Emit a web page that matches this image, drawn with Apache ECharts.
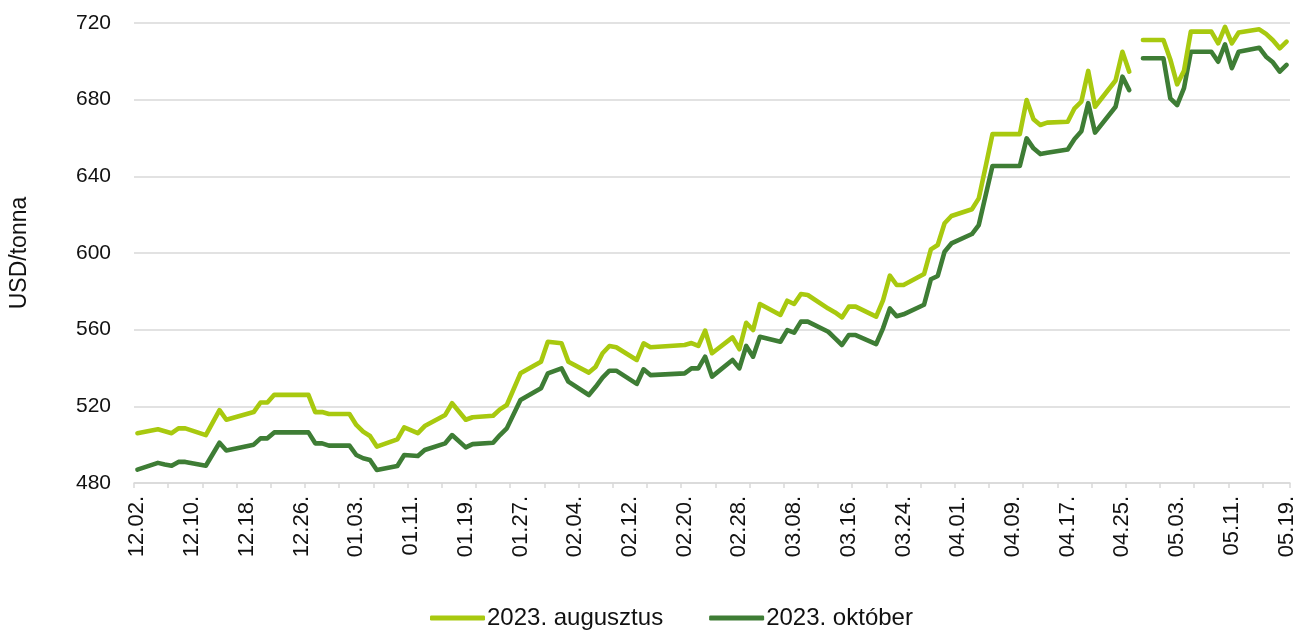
<!DOCTYPE html>
<html>
<head>
<meta charset="utf-8">
<script src="https://cdn.jsdelivr.net/npm/echarts@6/dist/echarts.min.js"></script>
<style>
html,body{margin:0;padding:0;background:#fff;}
#chart{width:1300px;height:631px;}
</style>
</head>
<body>
<div id="chart"></div>
<script>
// ---- categories: calendar days 2022-12-02 .. 2023-05-19 ----
const startDate = [2022, 11, 2];   // year, monthIndex, day
const dayCount = 169;

// ---- observed trading days (MM.DD.) ----
const obsDates = [
 '12.02.','12.05.','12.06.','12.07.','12.08.','12.09.','12.12.','12.14.','12.15.','12.19.',
 '12.20.','12.21.','12.22.','12.23.','12.26.','12.27.','12.28.','12.29.','12.30.','01.02.',
 '01.03.','01.04.','01.05.','01.06.','01.09.','01.10.','01.12.','01.13.','01.16.','01.17.',
 '01.19.','01.20.','01.23.','01.24.','01.25.','01.27.','01.30.','01.31.','02.02.','02.03.',
 '02.06.','02.07.','02.08.','02.09.','02.10.','02.13.','02.14.','02.15.','02.20.','02.21.',
 '02.22.','02.23.','02.24.','02.27.','02.28.','03.01.','03.02.','03.03.','03.06.','03.07.',
 '03.08.','03.09.','03.10.','03.13.','03.14.','03.15.','03.16.','03.17.','03.20.','03.21.',
 '03.22.','03.23.','03.24.','03.27.','03.28.','03.29.','03.30.','03.31.','04.03.','04.04.',
 '04.05.','04.06.','04.07.','04.10.','04.11.','04.12.','04.13.','04.14.','04.17.','04.18.',
 '04.19.','04.20.','04.21.','04.24.','04.25.','04.26.','04.28.','05.01.','05.02.','05.03.',
 '05.04.','05.05.','05.08.','05.09.','05.10.','05.11.','05.12.','05.15.','05.16.','05.17.',
 '05.18.','05.19.'
];

// 2023. augusztus (USD/tonna)
const augValues = [
 506,508,507,506,508.5,508.5,505,518,513,517,
 522,522,526,526,526,526,517,517,516,516,
 510.3,506.8,504.5,499,502.8,509,506,509.7,515.5,521.6,
 513,514.3,515.1,518.4,520.7,537.2,543.3,553.7,552.9,543.3,
 537.6,540.7,547.7,551.5,550.8,544.2,552.9,550.8,552,553,
 551.5,559.5,547.7,556,549.8,563.6,559.8,573.4,567.7,575.1,
 573.4,578.6,578.1,571,569,566.4,572,572,566.8,575.3,
 588.2,583.3,583.3,589,601.9,604.2,615.5,619.3,622.8,628.5,
 645,662,662,662,679.8,669.8,666.8,668,668.5,675.5,
 679,695,676.3,690,705,694.6,711.1,711.1,701,688,
 695,715.5,715.5,709.4,718,709.4,715,716.7,714.3,711,
 706.8,710.3
];

// 2023. október (USD/tonna)
const octValues = [
 487,490.5,489.7,489,491,491,489,501,497,500,
 503.3,503.3,506.4,506.4,506.4,506.4,500.7,500.7,499.5,499.5,
 494.6,492.9,492,486.8,488.9,494.6,494.1,497.2,500.7,505,
 498.6,500.3,501,505,508.5,523.3,529.4,537.2,539.8,532.9,
 525.9,530.2,535,538.6,538.6,531.7,539.3,536.3,537.2,539.8,
 539.8,545.9,535.5,544.2,539.8,551.5,545.9,556.3,553.7,559.8,
 558.4,564.2,564.2,558.9,555.5,552,557.2,557.2,552.5,560.7,
 571.1,567,568,573,586.3,588,600.7,605,609.9,614.6,
 630,645.4,645.4,645.4,659.8,654.6,651.6,652.3,654,659.5,
 663.5,678.2,662.8,676.3,692,685,701.6,701.6,680.7,677.2,
 686,705,705,699.8,708.9,696.4,705,707.1,702.4,699.5,
 694.6,698.1
];

// day with no data: the lines break here
const gapDate = '04.27.';

const seriesNames = ['2023. augusztus', '2023. október'];
const seriesColors = ['#a8c90f', '#3e7d35'];
const yTicks = { min: 480, max: 720, interval: 40 };

// ---- build ----
const categories = [];
for (let i = 0; i < dayCount; i++) {
  const d = new Date(Date.UTC(startDate[0], startDate[1], startDate[2] + i));
  const mm = String(d.getUTCMonth() + 1).padStart(2, '0');
  const dd = String(d.getUTCDate()).padStart(2, '0');
  categories.push(mm + '.' + dd + '.');
}
const idxOf = {};
categories.forEach((c, i) => { idxOf[c] = i; });
const gapIdx = idxOf[gapDate];

function fullArray(values) {
  const a = new Array(categories.length).fill(null);
  obsDates.forEach((d, k) => { a[idxOf[d]] = values[k]; });
  return a;
}
function part(arr, first) {
  return arr.map((v, i) => (first ? (i < gapIdx ? v : null) : (i > gapIdx ? v : null)));
}

const FONT = '"Liberation Sans", Arial, sans-serif';
const TEXT = '#111111';

function lineSeries(name, color, data) {
  return {
    name: name, type: 'line', data: data, connectNulls: true,
    showSymbol: false, symbol: 'none', smooth: false,
    lineStyle: { color: color, width: 4.6, cap: 'round', join: 'round' },
    itemStyle: { color: color },
    emphasis: { disabled: true }, z: name === seriesNames[0] ? 3 : 2
  };
}

const allSeries = [];
[augValues, octValues].forEach((vals, s) => {
  const full = fullArray(vals);
  allSeries.push(lineSeries(seriesNames[s], seriesColors[s], part(full, true)));
  allSeries.push(lineSeries(seriesNames[s], seriesColors[s], part(full, false)));
});

const chart = echarts.init(document.getElementById('chart'), null, { renderer: 'canvas' });
chart.setOption({
  animation: false,
  backgroundColor: '#fff',
  textStyle: { fontFamily: FONT, color: TEXT },
  grid: { left: 133, right: 10, top: 23, bottom: 148, containLabel: false },
  legend: {
    data: seriesNames,
    top: 601,
    left: 425,
    icon: 'roundRect',
    itemWidth: 55,
    itemHeight: 5,
    itemGap: 46,
    textStyle: { fontFamily: FONT, fontSize: 24, color: TEXT, padding: [0, 0, 0, -3] }
  },
  xAxis: {
    type: 'category',
    data: categories,
    boundaryGap: true,
    axisLine: { show: true, lineStyle: { color: '#d9d9d9', width: 1.5 } },
    axisTick: { show: true, interval: 4, length: 5, lineStyle: { color: '#d9d9d9', width: 1.5 } },
    axisLabel: { interval: 7, rotate: 90, margin: 13, fontFamily: FONT, fontSize: 22, color: TEXT },
    splitLine: { show: false }
  },
  yAxis: {
    type: 'value',
    min: yTicks.min, max: yTicks.max, interval: yTicks.interval,
    name: 'USD/tonna',
    nameLocation: 'middle',
    nameRotate: 90,
    nameGap: 103,
    nameTextStyle: { fontFamily: FONT, fontSize: 23, color: TEXT },
    axisLine: { show: false },
    axisTick: { show: false },
    axisLabel: { margin: 23, fontFamily: FONT, fontSize: 21, color: TEXT },
    splitLine: { show: true, lineStyle: { color: '#d9d9d9', width: 1.5 } }
  },
  series: allSeries
});
</script>
</body>
</html>
